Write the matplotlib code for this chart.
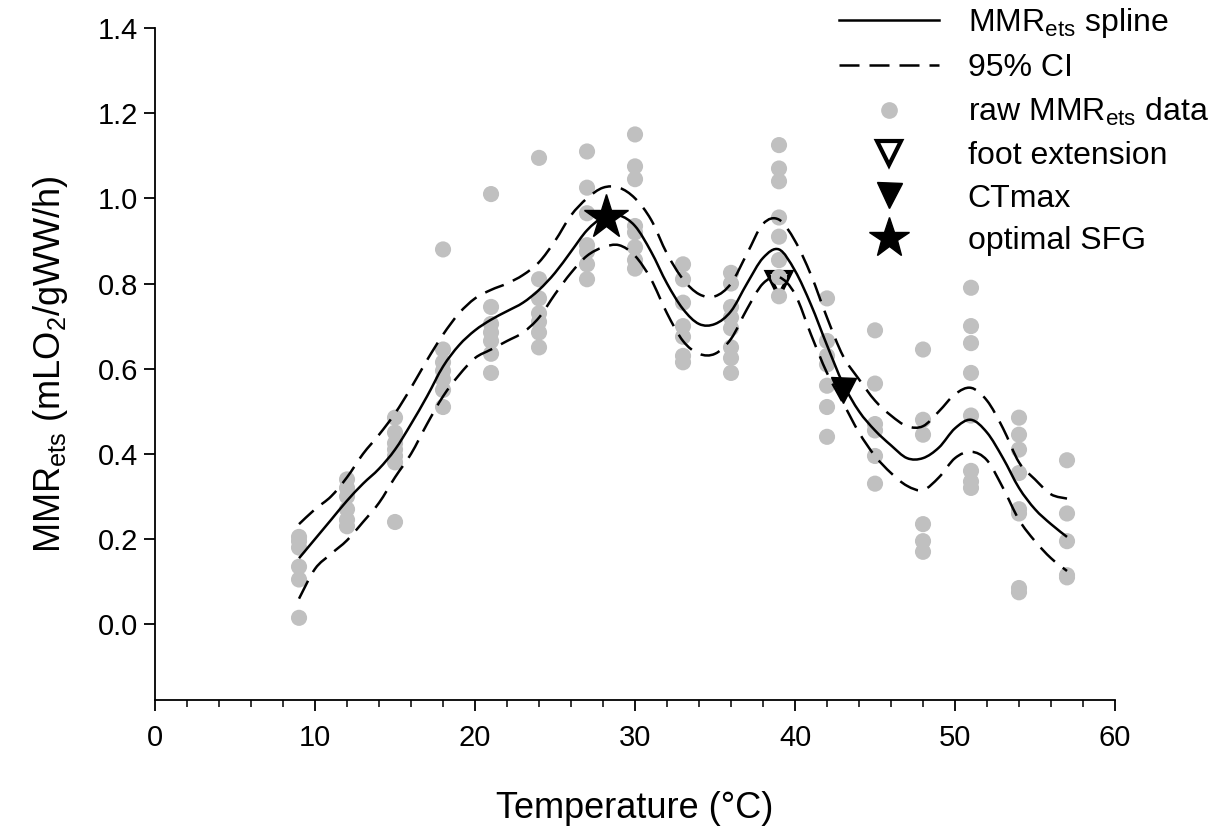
import matplotlib
matplotlib.use("Agg")
import matplotlib.pyplot as plt
from matplotlib.lines import Line2D
from matplotlib.path import Path
from matplotlib.patches import PathPatch

plt.rcParams['font.family'] = ['Liberation Sans', 'DejaVu Sans']
plt.rcParams['mathtext.default'] = 'regular'

# ---- raw data (temperature -> MMR values) ----
raw_temps = [9, 12, 15, 18, 21, 24, 27, 30, 33, 36, 39, 42, 45, 48, 51, 54, 57]
raw_values = [
    [0.205, 0.195, 0.18, 0.135, 0.105, 0.015],
    [0.34, 0.32, 0.30, 0.27, 0.245, 0.23],
    [0.485, 0.45, 0.425, 0.41, 0.395, 0.38, 0.24],
    [0.88, 0.645, 0.615, 0.595, 0.575, 0.55, 0.51],
    [1.01, 0.745, 0.705, 0.685, 0.665, 0.635, 0.59],
    [1.095, 0.81, 0.765, 0.73, 0.71, 0.685, 0.65],
    [1.11, 1.025, 0.965, 0.89, 0.875, 0.845, 0.81],
    [1.15, 1.075, 1.045, 0.935, 0.92, 0.885, 0.855, 0.835],
    [0.845, 0.81, 0.755, 0.70, 0.675, 0.63, 0.615],
    [0.825, 0.80, 0.745, 0.72, 0.695, 0.65, 0.625, 0.59],
    [1.125, 1.07, 1.04, 0.955, 0.91, 0.855, 0.815, 0.77],
    [0.765, 0.665, 0.63, 0.61, 0.56, 0.51, 0.44],
    [0.69, 0.565, 0.47, 0.455, 0.395, 0.33],
    [0.645, 0.48, 0.445, 0.235, 0.195, 0.17],
    [0.79, 0.70, 0.66, 0.59, 0.49, 0.36, 0.335, 0.32],
    [0.485, 0.445, 0.41, 0.355, 0.27, 0.26, 0.085, 0.075],
    [0.385, 0.26, 0.195, 0.115, 0.11],
]

# ---- spline and 95% CI ----
spline_t = list(range(9, 58))
spline_mid = [0.155, 0.20, 0.245, 0.29, 0.33, 0.365, 0.41, 0.47, 0.535, 0.605,
              0.655, 0.69, 0.715, 0.735, 0.755, 0.785, 0.825, 0.875, 0.925, 0.955,
              0.96, 0.935, 0.875, 0.80, 0.74, 0.705, 0.705, 0.735, 0.80, 0.86,
              0.88, 0.83, 0.75, 0.655, 0.565, 0.50, 0.455, 0.42, 0.39, 0.39,
              0.415, 0.46, 0.48, 0.45, 0.39, 0.32, 0.27, 0.235, 0.205]
spline_hi = [0.235, 0.27, 0.30, 0.345, 0.40, 0.445, 0.495, 0.555, 0.62, 0.68,
             0.73, 0.765, 0.785, 0.80, 0.82, 0.85, 0.90, 0.96, 1.00, 1.025,
             1.025, 1.0, 0.95, 0.87, 0.81, 0.775, 0.77, 0.80, 0.87, 0.94,
             0.95, 0.90, 0.82, 0.72, 0.63, 0.575, 0.525, 0.49, 0.465, 0.465,
             0.50, 0.54, 0.555, 0.525, 0.46, 0.38, 0.34, 0.305, 0.295]
spline_lo = [0.06, 0.13, 0.165, 0.197, 0.24, 0.285, 0.345, 0.40, 0.47, 0.535,
             0.585, 0.625, 0.645, 0.665, 0.685, 0.72, 0.775, 0.825, 0.865, 0.885,
             0.89, 0.865, 0.81, 0.73, 0.665, 0.635, 0.635, 0.67, 0.74, 0.80,
             0.815, 0.775, 0.68, 0.59, 0.52, 0.45, 0.395, 0.355, 0.325, 0.315,
             0.345, 0.39, 0.405, 0.385, 0.32, 0.245, 0.195, 0.155, 0.125]

foot_ext = (39, 0.80)
ctmax = (43, 0.55)
optimal_sfg = (28.2, 0.955)

legend_labels = [r'MMR$_{ets}$ spline', '95% CI', r'raw MMR$_{ets}$ data',
                 'foot extension', 'CTmax', 'optimal SFG']


def smooth_path(x, y):
    """Bezier path passing through the read points (Catmull-Rom style rendering)."""
    n = len(x)
    verts = [(x[0], y[0])]
    codes = [Path.MOVETO]
    for i in range(n - 1):
        x0, y0 = (x[i - 1], y[i - 1]) if i > 0 else (x[i], y[i])
        x1, y1 = x[i], y[i]
        x2, y2 = x[i + 1], y[i + 1]
        x3, y3 = (x[i + 2], y[i + 2]) if i + 2 < n else (x2, y2)
        c1 = (x1 + (x2 - x0) / 6.0, y1 + (y2 - y0) / 6.0)
        c2 = (x2 - (x3 - x1) / 6.0, y2 - (y3 - y1) / 6.0)
        verts += [c1, c2, (x2, y2)]
        codes += [Path.CURVE4] * 3
    return Path(verts, codes)


fig = plt.figure(figsize=(12.15, 8.3), dpi=100)
ax = fig.add_axes([0.1276, 0.1566, 0.7901, 0.8097])

grey = '#c0c0c0'
xs, ys = [], []
for t, vals in zip(raw_temps, raw_values):
    xs += [t] * len(vals)
    ys += vals

ax.plot(foot_ext[0], foot_ext[1], marker='v', markersize=17, markerfacecolor='white',
        markeredgecolor='black', markeredgewidth=3, linestyle='none', zorder=1)
ax.scatter(xs, ys, s=135, color=grey, edgecolors='none', zorder=2)

for series, style in ((spline_mid, 'solid'), (spline_hi, 'dashed'), (spline_lo, 'dashed')):
    patch = PathPatch(smooth_path(spline_t, series), facecolor='none',
                      edgecolor='black', lw=1.8, zorder=3)
    if style == 'dashed':
        patch.set_linestyle((0, (8, 4)))
    ax.add_patch(patch)

ax.plot(ctmax[0], ctmax[1], marker='v', markersize=18, color='black',
        linestyle='none', zorder=4)
ax.plot(optimal_sfg[0], optimal_sfg[1], marker='*', markersize=33, color='black',
        linestyle='none', zorder=4)

ax.set_xlim(0, 60)
ax.set_ylim(-0.178, 1.4)
ax.set_xticks([0, 10, 20, 30, 40, 50, 60])
ax.set_xticks(list(range(0, 61, 2)), minor=True)
ax.set_yticks([0.0, 0.2, 0.4, 0.6, 0.8, 1.0, 1.2, 1.4])
ax.set_yticklabels(['0.0', '0.2', '0.4', '0.6', '0.8', '1.0', '1.2', '1.4'])
ax.spines['top'].set_visible(False)
ax.spines['right'].set_visible(False)
for sp in ('left', 'bottom'):
    ax.spines[sp].set_linewidth(1.3)
ax.tick_params(axis='both', which='major', direction='out', length=8, width=1.3,
               labelsize=21)
ax.tick_params(axis='x', which='major', pad=9)
ax.tick_params(axis='y', which='major', pad=4)
ax.tick_params(axis='x', which='minor', direction='out', length=5, width=1.1)
ax.tick_params(axis='y', which='minor', left=False)

ax.set_xlabel('Temperature (°C)', fontsize=26, labelpad=28)
ax.set_ylabel(r'MMR$_{ets}$ (mLO$_2$/gWW/h)', fontsize=26, labelpad=20)

handles = [
    Line2D([], [], color='black', lw=1.8),
    Line2D([], [], color='black', lw=1.8, dashes=(8, 4)),
    Line2D([], [], marker='o', color=grey, markersize=11, linestyle='none'),
    Line2D([], [], marker='v', markersize=17, markerfacecolor='white',
           markeredgecolor='black', markeredgewidth=3, linestyle='none'),
    Line2D([], [], marker='v', markersize=18, color='black', linestyle='none'),
    Line2D([], [], marker='*', markersize=30, color='black', linestyle='none'),
]
leg = fig.legend(handles, legend_labels, loc='upper right',
                 bbox_to_anchor=(1.0, 1.0), frameon=False, fontsize=23,
                 handlelength=3.13, handletextpad=0.88, labelspacing=0.4,
                 borderpad=0.05, borderaxespad=0.15)

fig.savefig('out.png', dpi=100)
